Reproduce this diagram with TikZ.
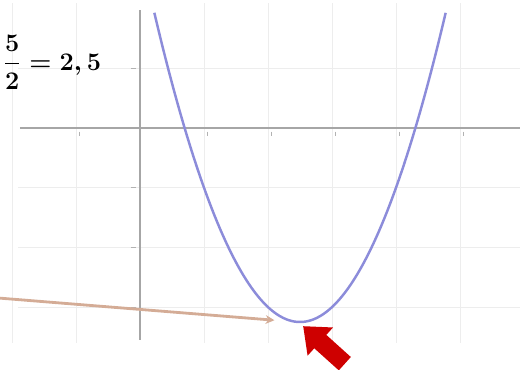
\documentclass[tikz,border=0pt]{standalone}
\usepackage{amsmath}
\usetikzlibrary{arrows.meta,positioning}
\definecolor{curveblue}{RGB}{140,140,218}
\definecolor{guidetan}{RGB}{212,172,150}
\definecolor{arrowred}{RGB}{206,0,0}
\tikzset{
  graphunits/.style={x=1.28cm,y=1.194cm},
  gridline/.style={draw=black!7,line width=0.5pt},
  axisline/.style={draw=black!35,line width=1.2pt},
  tickmark/.style={draw=black!30,line width=0.6pt},
  parab/.style={draw=curveblue,line width=1.4pt},
  guide/.style={draw=guidetan,line width=1.6pt,-{Stealth[length=5pt,width=5pt]}},
  vertexval/.style={font=\fontsize{15}{18}\selectfont\boldmath},
}

\begin{document}
\begin{tikzpicture}[graphunits]
  \useasboundingbox (-2.1875,-4.037) rectangle (5.9375,2.144);
  % grid
  \foreach \gx in {-2,-1,1,2,3,4,5}
    \draw[gridline] (\gx,-3.6) -- (\gx,2.1);
  \foreach \gy in {1,-1,-2,-3}
    \draw[gridline] (-1.9,\gy) -- (5.94,\gy);
  % axes
  \draw[axisline] (-1.875,0) -- (5.94,0);
  \draw[axisline] (0,-3.55) -- (0,1.98);
  \foreach \gx in {-1,1,2,3,4,5}
    \draw[tickmark] (\gx+0.05,-0.06) -- (\gx+0.05,-0.14);
  \foreach \gy in {1,-1,-2,-3}
    \draw[tickmark] (-0.06,\gy) -- (-0.14,\gy);
  % parabola
  \draw[parab,domain=0.224:4.776,samples=80,smooth] plot (\x,{\x*\x-5*\x+3});
  % guide line to the vertex
  \coordinate (gstart) at (-2.1875,-2.85);
  \coordinate (gend) at (2.1,-3.22);
  \draw[guide] (gstart) -- (gend);
  % red pointer
  \coordinate (tip) at (2.55,-3.32);
  \begin{scope}[shift={(tip)},rotate=138]
    \fill[arrowred] (0,0) -- (-0.46cm,0.38cm) -- (-0.46cm,0.18cm) -- (-1.12cm,0.18cm)
      -- (-1.12cm,-0.18cm) -- (-0.46cm,-0.18cm) -- (-0.46cm,-0.38cm) -- cycle;
  \end{scope}
  % value of the vertex
  \node[vertexval] (val) at (-1.375,1.105) {$\dfrac{5}{2}=2,5$};
\end{tikzpicture}
\end{document}
